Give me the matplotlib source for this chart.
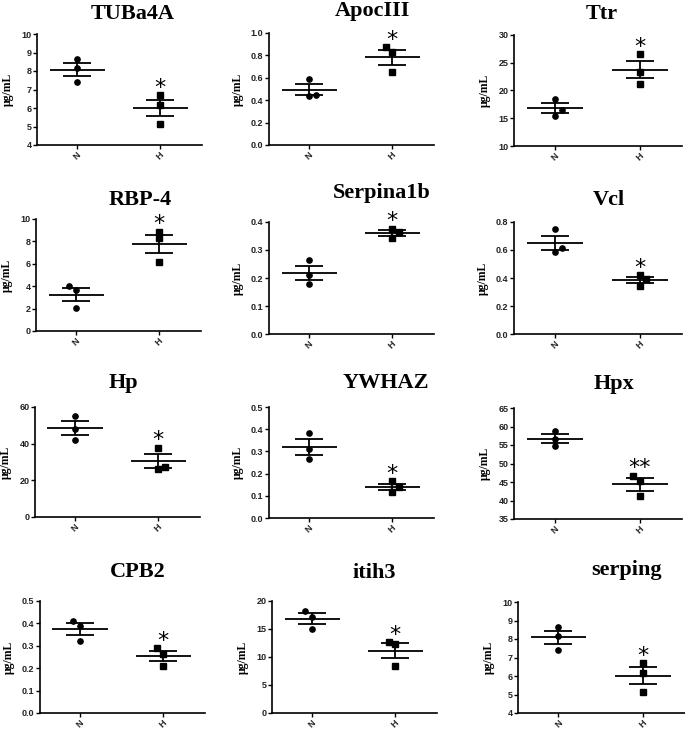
import numpy as np
import matplotlib
matplotlib.use('Agg')
import matplotlib.pyplot as plt

# 패널 데이터
titles = ['TUBa4A', 'ApocIII', 'Ttr', 'RBP-4', 'Serpina1b', 'Vcl',
          'Hp', 'YWHAZ', 'Hpx', 'CPB2', 'itih3', 'serping']
groups = ['N', 'H']
n_values = [[8.65, 8.17, 7.42], [0.59, 0.44, 0.45], [18.5, 16.4, 15.45],
            [4.0, 3.65, 2.07], [0.265, 0.212, 0.178], [0.75, 0.613, 0.585],
            [55.0, 48.2, 42.0], [0.384, 0.309, 0.266], [58.9, 56.5, 54.6],
            [0.41, 0.39, 0.321], [18.3, 17.2, 15.0], [8.66, 8.17, 7.42]]
h_values = [[6.68, 6.18, 5.15], [0.875, 0.827, 0.65], [26.5, 23.4, 21.2],
            [8.86, 8.29, 6.17], [0.376, 0.364, 0.343], [0.423, 0.394, 0.344],
            [37.9, 27.2, 26.4], [0.165, 0.138, 0.119], [46.7, 45.3, 41.1],
            [0.29, 0.264, 0.212], [12.6, 12.3, 8.48], [6.69, 6.18, 5.16]]
y_ranges = [(4, 10, 1), (0, 1.0, 0.2), (10, 30, 5), (0, 10, 2), (0, 0.4, 0.1), (0, 0.8, 0.2),
            (0, 60, 20), (0, 0.5, 0.1), (35, 65, 5), (0, 0.5, 0.1), (0, 20, 5), (4, 10, 1)]
signif = ['*', '*', '*', '*', '*', '*', '*', '*', '**', '*', '*', '*']

# 점 겹침 방지용 가로 이동 (스타일)
n_dx = [[0, 0, 0], [0, 0, 0.08], [0, 0.08, 0], [-0.08, 0, 0], [0, 0, 0], [0, 0.08, 0],
        [0, 0, 0], [0, 0, 0], [0, 0, 0], [-0.08, 0, 0], [-0.08, 0, 0], [0, 0, 0]]
h_dx = [[0, 0, 0], [-0.08, 0, 0], [0, 0, 0], [0, 0, 0], [0, 0.08, 0], [0, 0.08, 0],
        [0, 0.08, 0], [0, 0.08, 0], [-0.08, 0, 0], [-0.08, 0, 0], [-0.08, 0, 0], [0, 0, 0]]

# 축 위치 (픽셀: left, top, right, bottom) 와 제목 위치
W, H = 685, 729
boxes = [(37, 34, 202, 145), (269, 33, 434, 145), (514, 35, 682, 146),
         (36, 219, 201, 331), (269, 222, 434, 334), (514, 222, 682, 334),
         (35, 407, 200, 517), (269, 407, 434, 518), (514, 408, 682, 519),
         (40, 601, 205, 713), (272, 601, 437, 713), (518, 602, 685, 713)]
title_pos = [(133, 14), (372, 11), (602, 14), (140, 200), (382, 193), (609, 200),
             (123, 383), (386, 383), (614, 384), (138, 572), (374, 573), (627, 570)]

fig = plt.figure(figsize=(W / 100, H / 100), dpi=100)

for i in range(12):
    l, t, r, b = boxes[i]
    ax = fig.add_axes([l / W, 1 - b / H, (r - l) / W, (b - t) / H])
    lo, hi, step = y_ranges[i]

    for gx, vals, dx, mk in [(0, n_values[i], n_dx[i], 'o'), (1, h_values[i], h_dx[i], 's')]:
        vals = np.array(vals)
        mean = vals.mean()
        sem = vals.std(ddof=1) / np.sqrt(len(vals))
        ax.plot(gx + np.array(dx), vals, mk, color='black', markersize=3.8,
                clip_on=False, zorder=3)
        ax.hlines(mean, gx - 0.33, gx + 0.33, color='black', lw=1.3, zorder=2)
        ax.errorbar(gx, mean, yerr=sem, fmt='none', ecolor='black',
                    elinewidth=1.3, capsize=10, capthick=1.3, zorder=2)

    top = max(h_values[i])
    ax.text(1, top + 0.065 * (hi - lo), signif[i], ha='center', va='center',
            fontsize=16, family='DejaVu Sans', clip_on=False)

    ax.set_xlim(-0.48, 1.5)
    ax.set_ylim(lo, hi)
    ticks = np.arange(lo, hi + step / 2, step)
    ax.set_yticks(ticks)
    if step < 1:
        ax.set_yticklabels(['%.1f' % v for v in ticks])
    else:
        ax.set_yticklabels(['%d' % v for v in ticks])
    ax.set_xticks([0, 1])
    ax.set_xticklabels(groups, rotation=45, ha='center')

    for s in ['top', 'right']:
        ax.spines[s].set_visible(False)
    for s in ['left', 'bottom']:
        ax.spines[s].set_linewidth(1.2)
    ax.tick_params(axis='both', length=3, width=1.0, pad=1, labelsize=6.5)
    for lab in ax.get_yticklabels() + ax.get_xticklabels():
        lab.set_family('Liberation Sans')
        lab.set_fontweight('bold')
        lab.set_color('#222222')

    ax.set_ylabel('μg/mL', family='Liberation Serif', fontweight='bold', fontsize=8.5, labelpad=5)

    tx, ty = title_pos[i]
    fig.text(tx / W, 1 - ty / H, titles[i], ha='center', va='center',
             family='Liberation Serif', fontweight='bold', fontsize=16)

plt.savefig('out.png', dpi=100)
